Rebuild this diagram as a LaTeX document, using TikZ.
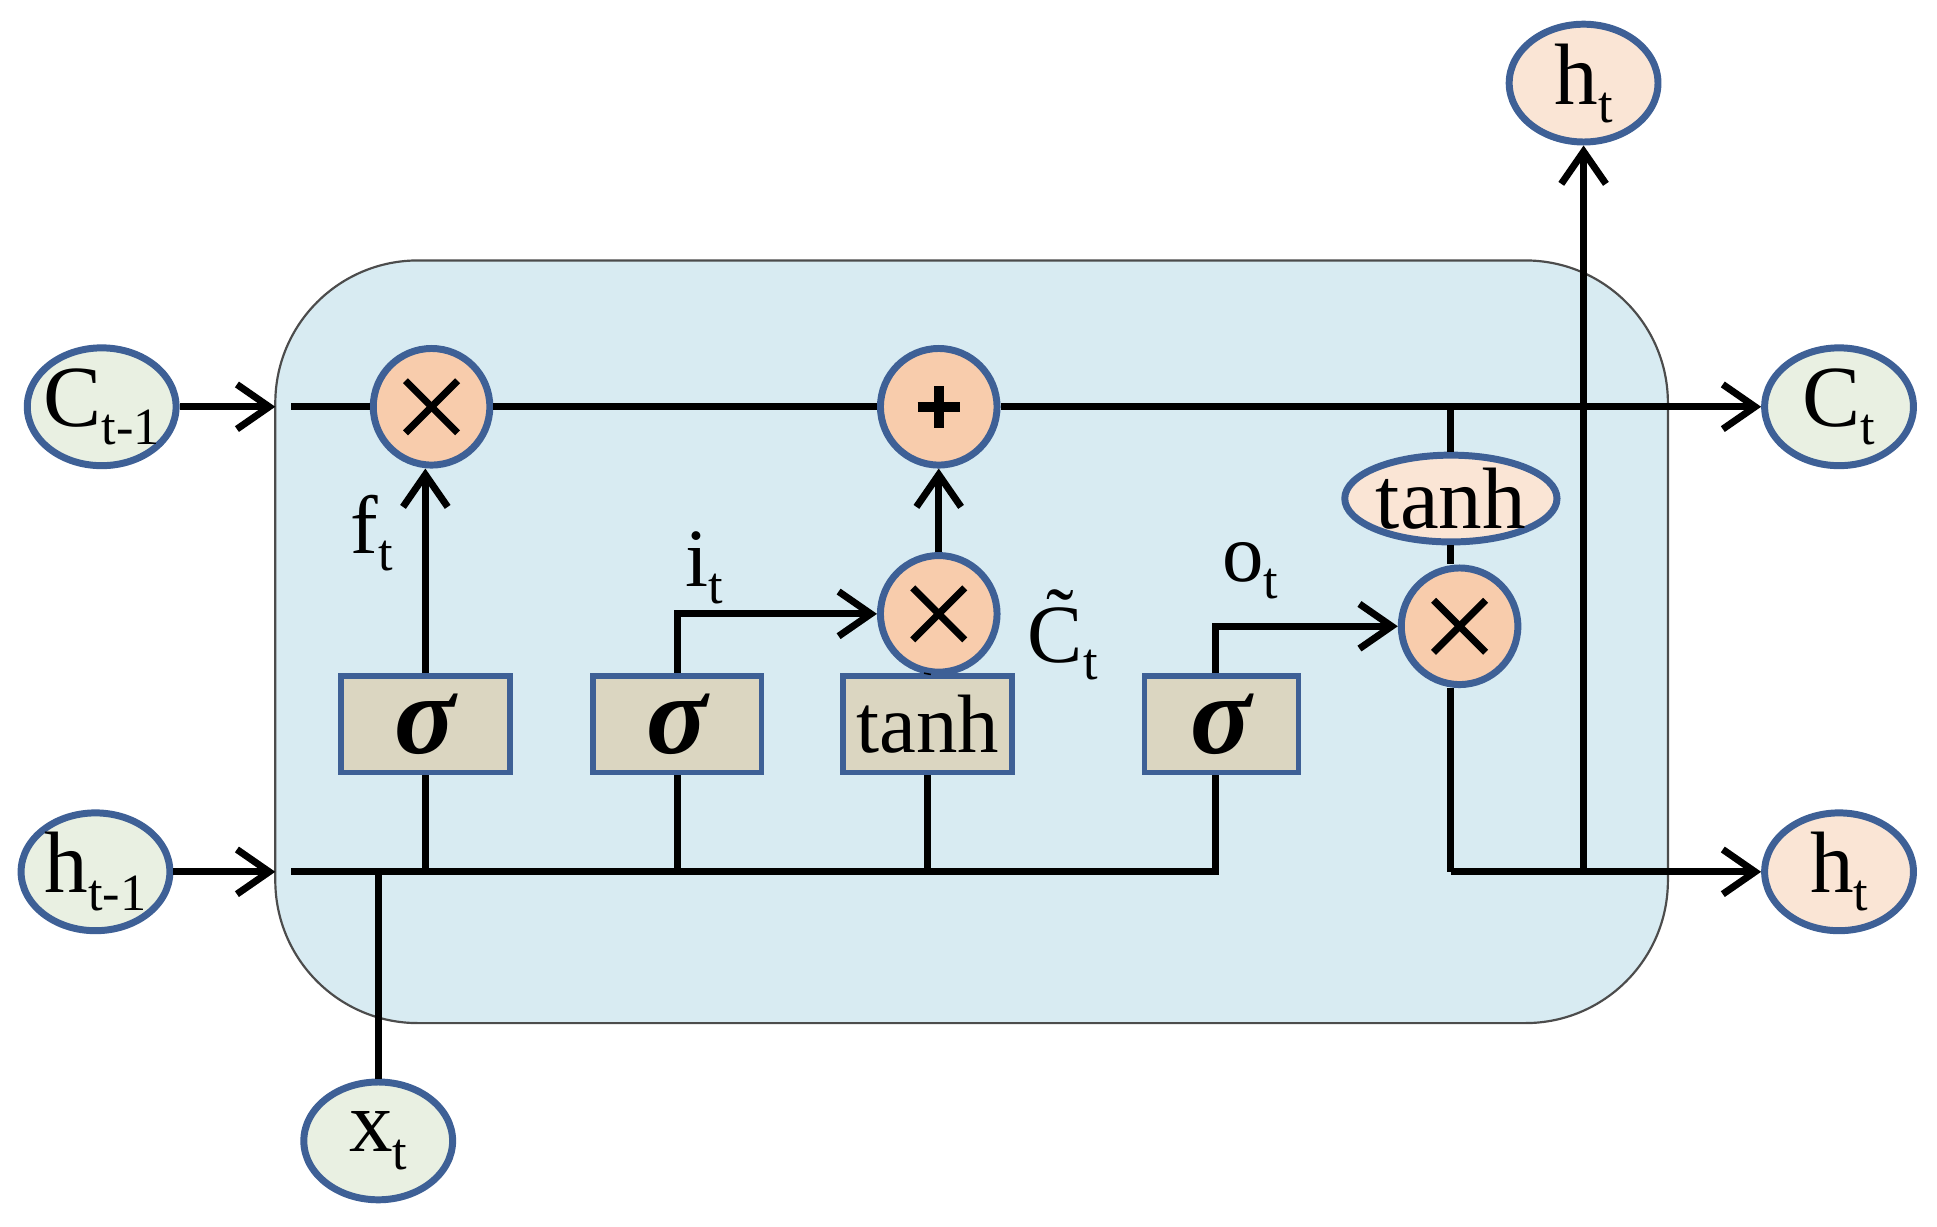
\documentclass[tikz,border=0pt]{standalone}
\usepackage{fontspec}
\setmainfont{Liberation Serif}
\usetikzlibrary{shapes.geometric,arrows.meta}
\definecolor{cellbg}{RGB}{216,235,242}
\definecolor{edgeb}{RGB}{62,96,150}
\definecolor{ingreen}{RGB}{233,240,226}
\definecolor{outpeach}{RGB}{250,229,213}
\definecolor{opfill}{RGB}{248,204,172}
\definecolor{boxfill}{RGB}{219,214,193}
\newcommand{\sbs}[1]{\raisebox{-0.45ex}{\fontsize{12}{12}\selectfont #1}}
\tikzset{
 io/.style={ellipse,draw=edgeb,line width=1.6pt,minimum width=1.2cm,minimum height=0.95cm,inner sep=-2pt,font=\fontsize{20}{20}\selectfont},
 inn/.style={io,fill=ingreen},
 outn/.style={io,fill=outpeach},
 op/.style={circle,draw=edgeb,line width=1.6pt,fill=opfill,minimum size=0.94cm,inner sep=0pt},
 gate/.style={rectangle,draw=edgeb,line width=1.3pt,fill=boxfill,minimum height=0.78cm,inner sep=0pt},
 ln/.style={line width=1.6pt,black},
 arr/.style={ln,-{Straight Barb[length=2.6mm,width=3.6mm,line width=1.6pt]}},
 lab/.style={font=\fontsize{19}{20}\selectfont},
 sig/.style={font=\fontsize{26}{26}\selectfont\bfseries\itshape}
}
\begin{document}
\begin{tikzpicture}
\useasboundingbox (0,0) rectangle (15.62,-9.89);
\draw[fill=cellbg,draw=black!70,line width=0.5pt,rounded corners=1.15cm] (2.22,-2.10) rectangle (13.45,-8.25);
% nodes
\node[inn] (ctm) at (0.82,-3.28) {C\sbs{t-1}};
\node[inn] (htm) at (0.77,-7.03) {h\sbs{t-1}};
\node[inn] (xt) at (3.05,-9.20) {x\sbs{t}};
\node[inn] (ct) at (14.83,-3.28) {C\sbs{t}};
\node[outn] (htop) at (12.77,-0.67) {h\sbs{t}};
\node[outn] (hr) at (14.83,-7.03) {h\sbs{t}};
\node[op] (m1) at (3.48,-3.28) {};
\node[op] (pl) at (7.57,-3.28) {};
\node[op] (m2) at (7.57,-4.95) {};
\node[op] (m3) at (11.77,-5.05) {};
\foreach \n in {m1,m2,m3}{
 \draw[line width=1.6pt] ([shift={(-0.21,-0.21)}]\n.center) -- ([shift={(0.21,0.21)}]\n.center);
 \draw[line width=1.6pt] ([shift={(-0.21,0.21)}]\n.center) -- ([shift={(0.21,-0.21)}]\n.center);}
\draw[line width=2.2pt] ([xshift=-0.17cm]pl.center) -- ([xshift=0.17cm]pl.center);
\draw[line width=2.2pt] ([yshift=-0.17cm]pl.center) -- ([yshift=0.17cm]pl.center);
\node[ellipse,draw=edgeb,line width=1.6pt,fill=outpeach,minimum width=1.64cm,minimum height=0.7cm,inner sep=0pt,font=\fontsize{20}{20}\selectfont] (th) at (11.70,-4.02) {tanh};
\node[gate,minimum width=1.36cm,sig] (s1) at (3.43,-5.84) {σ};
\node[gate,minimum width=1.36cm,sig] (s2) at (5.46,-5.84) {σ};
\node[gate,minimum width=1.36cm,font=\fontsize{19}{19}\selectfont] (tg) at (7.48,-5.84) {tanh};
\node[gate,minimum width=1.24cm,sig] (s3) at (9.85,-5.84) {σ};
% coordinates
\coordinate (tl) at (2.35,-3.28);
\coordinate (bl) at (2.35,-7.03);
\coordinate (br) at (9.80,-7.03);
\coordinate (jx) at (3.05,-7.03);
\coordinate (tj) at (11.70,-3.28);
\coordinate (rb) at (11.70,-7.03);
\coordinate (hj) at (12.77,-7.03);
% connectors
\draw[arr] (ctm) -- (2.22,-3.28);
\draw[arr] (htm) -- (2.22,-7.03);
\draw[ln] (tl) -- (m1);
\draw[ln] (m1) -- (pl);
\draw[arr] (pl) -- (ct);
\draw[ln] (bl) -- (br) -- (br |- s3.south);
\draw[ln] (jx) -- (xt);
\draw[ln] (s1.south |- bl) -- (s1.south);
\draw[ln] (s2.south |- bl) -- (s2.south);
\draw[ln] (tg.south |- bl) -- (tg.south);
\draw[arr] (s1.north) -- (s1.north |- m1.south);
\draw[arr] (s2.north) -- (s2.north |- m2.west) -- (m2.west);
\draw[ln] (tg.north) -- (m2);
\draw[arr] (m2) -- (pl);
\draw[arr] (br |- s3.north) -- (br |- m3.west) -- (m3.west);
\draw[ln] (tj) -- (th);
\draw[ln] (th.south) -- (th.south |- m3.north);
\draw[ln] (rb |- m3.south) -- (rb);
\draw[arr] (rb) -- (hr);
\draw[arr] (hj) -- (htop);
% labels
\node[lab] at (3.00,-4.30) {f\sbs{t}};
\node[lab] at (5.68,-4.58) {i\sbs{t}};
\node[lab] at (8.57,-5.12) {\~C\sbs{t}};
\node[lab] at (10.08,-4.60) {o\sbs{t}};
\end{tikzpicture}
\end{document}
